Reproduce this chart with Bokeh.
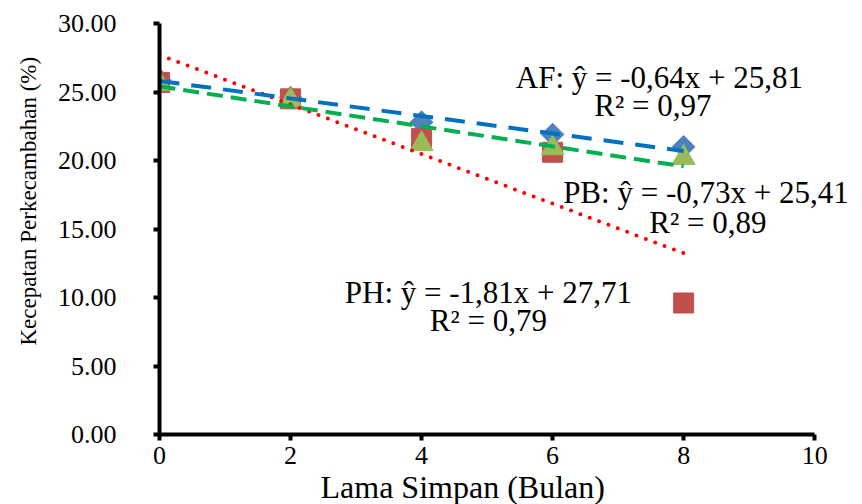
import math
from bokeh.plotting import figure
from bokeh.models import (Range1d, FixedTicker, NumeralTickFormatter, ColumnDataSource,
                          LabelSet, Title)
from bokeh.embed import file_html
from bokeh.resources import INLINE

months = [0, 2, 4, 6, 8]
af = [25.9, 24.6, 22.8, 21.9, 21.0]
ph = [25.7, 24.5, 21.6, 20.6, 9.6]
pb = [25.6, 24.4, 21.2, 20.9, 20.2]

# regression coefficients (slope, intercept) as printed on the chart
af_fit = (-0.64, 25.81)
pb_fit = (-0.73, 25.41)
ph_fit = (-1.81, 27.71)

x_ticks = [0, 2, 4, 6, 8, 10]
y_ticks = [0, 5, 10, 15, 20, 25, 30]

labels = ["AF: ŷ = -0,64x + 25,81", "R² = 0,97",
          "PB: ŷ = -0,73x + 25,41", "R² = 0,89",
          "PH: ŷ = -1,81x + 27,71", "R² = 0,79"]
label_x = [7.63, 7.53, 8.34, 8.37, 5.02, 5.02]
label_y = [26.06, 24.0, 17.66, 15.47, 10.36, 8.32]

FONT = "Liberation Serif"

# x range runs past 10 so the equations can reach the right edge; axis line is bounded at 0..10
p = figure(width=862, height=504, output_backend="svg", toolbar_location=None,
           x_range=Range1d(0, 10.73), y_range=Range1d(0, 30),
           min_border_left=157, min_border_right=0, min_border_top=23, min_border_bottom=70)
p.outline_line_color = None
p.xgrid.visible = False
p.ygrid.visible = False
p.background_fill_color = "white"
p.border_fill_color = "white"

for ax in (p.xaxis[0], p.yaxis[0]):
    ax.axis_line_width = 4
    ax.axis_line_color = "black"
    ax.major_tick_line_width = 4
    ax.major_tick_line_color = "black"
    ax.major_tick_in = 0
    ax.major_tick_out = 6
    ax.minor_tick_line_color = None
    ax.major_label_text_font = FONT
    ax.major_label_text_font_size = "26px"
    ax.major_label_text_color = "black"

p.xaxis.bounds = (0, 10)
p.xaxis.ticker = FixedTicker(ticks=x_ticks)
p.yaxis.ticker = FixedTicker(ticks=y_ticks)
p.yaxis.formatter = NumeralTickFormatter(format="0.00")
p.xaxis.major_label_standoff = 6
p.yaxis.major_label_standoff = 37

p.add_layout(Title(text="Lama Simpan (Bulan)", align="left", offset=161, standoff=0,
                   text_font=FONT, text_font_size="32px", text_font_style="normal",
                   text_color="black"), "below")
p.add_layout(Title(text="Kecepatan Perkecambahan (%)", align="left", offset=89, standoff=27,
                   text_font=FONT, text_font_size="23px", text_font_style="normal",
                   text_color="black"), "left")

# markers
p.scatter(months, af, marker="square", angle=math.pi / 4, size=16,
          fill_color="#4F81BD", line_color="#4F81BD")
p.scatter(months, ph, marker="square", size=20, fill_color="#C0504D", line_color="#C0504D")
p.scatter(months, pb, marker="triangle", size=23, fill_color="#9BBB59", line_color="#9BBB59")

# trend lines
xs = [0, 8]
p.line(xs, [ph_fit[1] + ph_fit[0] * x for x in xs], line_color="#FF0000", line_width=4,
       line_dash="0 10", line_cap="round")
p.line(xs, [af_fit[1] + af_fit[0] * x for x in xs], line_color="#0070C0", line_width=4,
       line_dash="20 12")
p.line(xs, [pb_fit[1] + pb_fit[0] * x for x in xs], line_color="#00B050", line_width=4,
       line_dash="16 8")

src = ColumnDataSource(dict(x=label_x, y=label_y, t=labels))
p.add_layout(LabelSet(x="x", y="y", text="t", source=src, text_font=FONT, text_font_size="31px",
                      text_align="center", text_baseline="middle", text_color="black"))

open("out.html", "w").write(file_html(p, INLINE))
